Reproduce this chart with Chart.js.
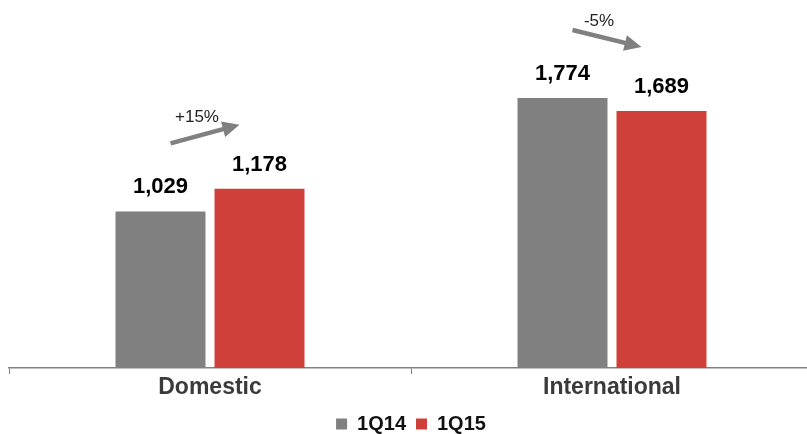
<!DOCTYPE html>
<html>
<head>
<meta charset="utf-8">
<script src="https://cdn.jsdelivr.net/npm/chart.js@4/dist/chart.umd.min.js"></script>
<style>
  html, body { margin: 0; padding: 0; background: #fff; overflow: hidden; }
  #wrap { width: 813px; height: 444px; position: relative; }
</style>
</head>
<body>
<div id="wrap"><canvas id="revenueChart"></canvas></div>
<script>
// Chart values
var categories = ['Domestic', 'International'];
var seriesNames = ['1Q14', '1Q15'];
var values1Q14 = [1029, 1774];
var values1Q15 = [1178, 1689];
var changeLabels = ['+15%', '-5%'];
var barColors = ['#808080', '#D0403A'];

var fontFamily = '"Liberation Sans", Arial, sans-serif';
Chart.defaults.font.family = fontFamily;

// Value labels above each bar
var barLabels = {
    id: 'barLabels',
    afterDatasetsDraw: function(chart) {
        var ctx = chart.ctx;
        ctx.save();
        ctx.font = 'bold 22px ' + fontFamily;
        ctx.fillStyle = '#000';
        ctx.textAlign = 'center';
        ctx.textBaseline = 'middle';
        chart.data.datasets.forEach(function(ds, i) {
            chart.getDatasetMeta(i).data.forEach(function(bar, j) {
                ctx.fillText(ds.data[j].toLocaleString('en-US'), bar.x, bar.y - 24);
            });
        });
        ctx.restore();
    }
};

// Growth arrows between the two bars of each category
var changeArrows = {
    id: 'changeArrows',
    afterDatasetsDraw: function(chart) {
        var ctx = chart.ctx;
        var first = chart.getDatasetMeta(0).data;
        var second = chart.getDatasetMeta(1).data;
        ctx.save();
        categories.forEach(function(c, i) {
            var x1 = first[i].x + 10, y1 = first[i].y - 68;
            var x2 = second[i].x - 20, y2 = second[i].y - 64;
            var ang = Math.atan2(y2 - y1, x2 - x1);
            var cos = Math.cos(ang), sin = Math.sin(ang);
            var head = 17, half = 8;
            var bx = x2 - head * cos, by = y2 - head * sin;

            ctx.strokeStyle = '#808080';
            ctx.fillStyle = '#808080';
            ctx.lineWidth = 4.5;
            ctx.beginPath();
            ctx.moveTo(x1, y1);
            ctx.lineTo(bx + cos, by + sin);
            ctx.stroke();

            ctx.beginPath();
            ctx.moveTo(x2, y2);
            ctx.lineTo(bx + half * sin, by - half * cos);
            ctx.lineTo(bx - half * sin, by + half * cos);
            ctx.closePath();
            ctx.fill();

            ctx.font = '17px ' + fontFamily;
            ctx.fillStyle = '#222';
            ctx.textAlign = 'center';
            ctx.textBaseline = 'middle';
            ctx.fillText(changeLabels[i], (x1 + x2) / 2 - 8, (y1 + y2) / 2 - 17);
        });
        ctx.restore();
    }
};

var ctx = document.getElementById('revenueChart').getContext('2d');
var revenueChart = new Chart(ctx, {
    type: 'bar',
    data: {
        labels: categories,
        datasets: [{
            label: seriesNames[0],
            data: values1Q14,
            backgroundColor: barColors[0],
            categoryPercentage: 0.4925,
            barPercentage: 0.909
        }, {
            label: seriesNames[1],
            data: values1Q15,
            backgroundColor: barColors[1],
            categoryPercentage: 0.4925,
            barPercentage: 0.909
        }]
    },
    options: {
        responsive: true,
        maintainAspectRatio: false,
        animation: false,
        layout: {
            padding: { left: 9, right: 0, top: 18, bottom: 0 }
        },
        scales: {
            x: {
                offset: true,
                grid: {
                    offset: true,
                    drawOnChartArea: false,
                    drawTicks: true,
                    tickLength: 6,
                    color: '#808080',
                    lineWidth: 1
                },
                border: { display: true, color: '#808080', width: 1.5 },
                ticks: {
                    padding: 0,
                    color: '#3a3a3a',
                    font: { size: 23, weight: 'bold' }
                },
                afterFit: function(axis) { axis.height = 36; }
            },
            y: {
                display: false,
                min: 0,
                max: 2300
            }
        },
        plugins: {
            legend: {
                position: 'bottom',
                labels: {
                    boxWidth: 11,
                    boxHeight: 11,
                    padding: 10,
                    color: '#111',
                    font: { size: 20, weight: 'bold' }
                }
            },
            tooltip: { enabled: false }
        }
    },
    plugins: [barLabels, changeArrows]
});
</script>
</body>
</html>
